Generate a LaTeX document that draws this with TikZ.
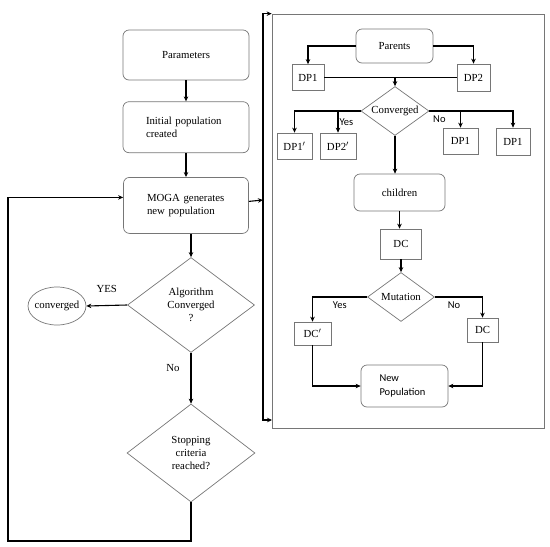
\documentclass[tikz,border=0pt]{standalone}
\usepackage{fontspec}
\setmainfont{Liberation Serif}
\newfontfamily\calfont{Carlito}
\usetikzlibrary{positioning,arrows.meta,shapes.geometric}
\definecolor{boxgray}{RGB}{118,118,118}

\begin{document}
\begin{tikzpicture}[
  x=1pt, y=-1pt,
  >={Stealth[length=5pt,width=4.5pt]},
  every node/.style={font=\fontsize{10.8}{13}\selectfont, align=center},
  rbox/.style={draw=boxgray, rounded corners=6pt, line width=0.7pt, inner sep=0pt},
  sbox/.style={draw=boxgray, line width=0.7pt, inner sep=0pt},
  dec/.style={diamond, draw=boxgray, line width=0.7pt, inner sep=0pt, aspect=1.3},
  e/.style={->, line width=1.1pt},
  ln/.style={line width=1.1pt},
  yl/.style={inner sep=1pt},
  yn/.style={font=\calfont\fontsize{10.5}{12}\selectfont, inner sep=1pt}
]
\useasboundingbox (0,0) rectangle (550,547);

% main loop
\node[rbox, minimum width=126pt, minimum height=50pt] (par) at (186,55) {Parameters};
\node[rbox, minimum width=126pt, minimum height=51pt, text width=80pt, align=left, below=21pt of par] (init) {Initial population\\created};
\node[rbox, minimum width=125pt, minimum height=56pt, text width=78pt, align=left, below=24pt of init] (moga) {MOGA generates\\new population};
\node[dec, minimum width=127pt, minimum height=95pt] (alg) at (191,305) {Algorithm\\Converged\\?};
\node[ellipse, draw=boxgray, line width=0.7pt, minimum width=58pt, minimum height=38pt, inner xsep=-8pt, inner ysep=0pt] (conv) at (57,306) {converged};
\node[dec, minimum width=128pt, minimum height=98pt] (stop) at (191,453) {Stopping\\criteria\\reached?};

% crossover / mutation panel
\node[draw=boxgray, line width=0.7pt, minimum width=272pt, minimum height=414pt, inner sep=0pt] (panel) at (408,221) {};
\node[rbox, minimum width=77pt, minimum height=34pt] (prt) at (394.5,46) {Parents};
\node[sbox, minimum width=32pt, minimum height=26pt] (dpa) at (308,77.5) {DP1};
\node[sbox, minimum width=33pt, minimum height=27pt] (dpb) at (473.5,77.5) {DP2};
\node[dec, minimum width=68pt, minimum height=49pt] (cv) at (395,111) {Converged};
\node[sbox, minimum width=35pt, minimum height=26pt] (dpap) at (294.5,146) {DP1$'$};
\node[sbox, minimum width=36pt, minimum height=26pt] (dpbp) at (338,146) {DP2$'$};
\node[sbox, minimum width=35pt, minimum height=26pt] (dpc) at (460.5,141) {DP1};
\node[sbox, minimum width=34pt, minimum height=27pt] (dpd) at (513,141.5) {DP1};
\node[rbox, minimum width=91pt, minimum height=37pt] (ch) at (399.5,192.5) {children};
\node[sbox, minimum width=41pt, minimum height=30pt] (dc) at (401,244) {DC};
\node[dec, minimum width=67pt, minimum height=49pt] (mut) at (401,297) {Mutation};
\node[sbox, minimum width=37pt, minimum height=23pt] (dcp) at (312.5,333.5) {DC$'$};
\node[sbox, minimum width=31pt, minimum height=24pt] (dcq) at (482.5,330) {DC};
\node[rbox, minimum width=87pt, minimum height=42pt, text width=50pt, align=left, font=\calfont\fontsize{10.5}{14}\selectfont] (np) at (404.5,386) {New\\Population};

\coordinate (jn) at (263,200);
\coordinate (inB) at (272,420);
\coordinate (lp) at (8,541);

\draw[e] (par) -- (init);
\draw[e] (init) -- (moga);
\draw[e] (moga.south -| alg.north) -- (alg.north);
\draw[e] (alg.west) -- node[yl, above=11pt]{YES} (conv.east);
\draw[e] (alg.south) -- node[yl, left=10pt, pos=0.3]{No} (stop.north);
\draw[e] (stop.south) |- (lp) |- ([yshift=8pt]moga.west);
\draw[e] ([yshift=4pt]moga.east) -- (jn);
\draw[e] (jn) |- (panel.north west);
\draw[e] (jn) |- (inB);

\draw[e] (prt.west) -| (dpa.north);
\draw[e] (prt.east) -| (dpb.north);
\draw[ln] (dpa.east) -- (dpb.west);
\draw[e] (dpa.east -| cv.north) -- (cv.north);
\draw[e] (cv.west) -| (dpap.north);
\draw[e] (cv.west -| dpbp.north) -- node[yn, right]{Yes} (dpbp.north);
\draw[e] (cv.east) -| node[yn, below=3pt, pos=0.06]{No} (dpd.north);
\draw[e] (cv.east -| dpc.north) -- (dpc.north);
\draw[e] (cv.south) -- (cv.south |- ch.north);
\draw[e] (ch.south) -- (ch.south |- dc.north);
\draw[e] (dc.south) -- (mut.north);
\draw[e] (mut.west) -| node[yn, below=3pt, pos=0.25]{Yes} (dcp.north);
\draw[e] (mut.east) -| node[yn, below=3pt, pos=0.2]{No} (dcq.north);
\draw[e] (dcp.south) |- (np.west);
\draw[e] (dcq.south) |- (np.east);
\end{tikzpicture}
\end{document}
